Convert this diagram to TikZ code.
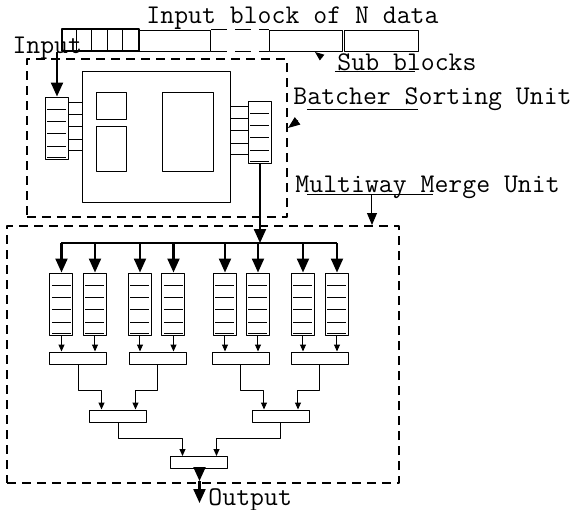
\documentclass[tikz,border=0pt]{standalone}
\usetikzlibrary{arrows.meta}
\tikzset{
  blk/.style={draw, inner sep=0pt, minimum height=10.5pt},
  reg/.style={draw, inner sep=0pt, minimum width=11.5pt, minimum height=31pt,
    path picture={\foreach \d in {6,12,18,24.5,30}
      \draw ([xshift=1pt,yshift=-\d pt]path picture bounding box.north west)
        -- ([xshift=-1pt,yshift=-\d pt]path picture bounding box.north east);}},
  unit/.style={draw, dash pattern=on 4.5pt off 3pt, line width=1pt, inner sep=0pt},
  mbox/.style={draw, inner sep=0pt, minimum width=28.5pt, minimum height=6pt},
  bigarrow/.style={line width=1.1pt, -{Triangle[length=7pt,width=6pt]}},
  midarrow/.style={-{Triangle[length=6pt,width=5pt]}},
  smallarrow/.style={-{Triangle[length=3.5pt,width=3pt]}},
  lbl/.style={anchor=base west, inner sep=0pt, font=\fontsize{13.5}{15}\selectfont\ttfamily},
}
\begin{document}
\begin{tikzpicture}[x=0.5pt, y=-0.5pt, line width=0.5pt, line join=round]
\useasboundingbox (0,0) rectangle (570,510);
% input block
\node[blk, line width=1pt, minimum width=38.5pt, minimum height=11pt] (cells) at (100.5,40) {};
\foreach \i in {1,...,4}
  \draw ([xshift=\i*7.7pt]cells.north west) -- ([xshift=\i*7.7pt]cells.south west);
\node[blk, minimum width=36pt] (b1) at (175,40.5) {};
\node[blk, minimum width=36.5pt] (b2) at (306.5,40.5) {};
\node[blk, minimum width=37pt] (b3) at (382,40.5) {};
\draw[dash pattern=on 8pt off 4pt] (b1.north east) -- (b2.north west);
\draw[dash pattern=on 8pt off 4pt] (b1.south east) -- (b2.south west);
\node[lbl] (title) at (146,23) {Input block of N data};
\node[lbl] (input) at (12,53) {Input};
\node[lbl] (sub) at (337,70) {Sub blocks};
\path (335,71) coordinate (subl) (415,71) coordinate (subr)
  (322,57.5) coordinate (subf) (315,52) coordinate (subt);
\draw (subl) -- (subr);
\draw[-{Triangle[length=4.5pt,width=3.5pt]}] (subf) -- (subt);
% batcher sorting unit
\node[unit, minimum width=130pt, minimum height=79pt] (bsu) at (157,138) {};
\node[draw, inner sep=0pt, minimum width=74pt, minimum height=65.5pt] (sort) at (157,136.5) {};
\node[draw, inner sep=0pt, minimum width=15pt, minimum height=13.5pt] (s1) at (112,105.5) {};
\node[draw, inner sep=0pt, minimum width=15pt, minimum height=22.5pt] (s2) at (112,148.5) {};
\node[draw, inner sep=0pt, minimum width=25.5pt, minimum height=39.5pt] (s3) at (188.5,131.5) {};
\node[reg] (bsl) at (57,128) {};
\node[reg] (bsr) at (260,132) {};
\foreach \d in {3,9,15,21.5,27} {
  \path ([yshift=-\d pt]bsl.north east) coordinate (p);
  \draw (p) -- (p -| sort.west);
  \path ([yshift=-\d pt]bsr.north west) coordinate (q);
  \draw (q) -- (q -| sort.east);
}
\draw[bigarrow] (cells.south -| bsl.north) -- (bsl.north);
\node[lbl] (bsname) at (293,104) {Batcher Sorting Unit};
\path (307,109) coordinate (bsul) (418,109) coordinate (bsur)
  (298,120.5) coordinate (bsf) (288,128) coordinate (bst);
\draw (bsul) -- (bsur);
\draw[-{Triangle[length=6pt,width=4.5pt]}] (bsf) -- (bst);
% multiway merge unit
\node[unit, minimum width=196pt, minimum height=128.5pt] (mmu) at (203,354.5) {};
\node[lbl] (mmname) at (295,192) {Multiway Merge Unit};
\path (307,194) coordinate (mmul) (433,194) coordinate (mmur) (372,194) coordinate (mmf);
\draw (mmul) -- (mmur);
\draw[midarrow] (mmf) -- (mmf |- mmu.north);
\foreach \x [count=\i] in {61.5,95,140,173.5,225,258,303,337}
  \node[reg] (r\i) at (\x,304) {};
\foreach \x [count=\i] in {78.5,158,241,320}
  \node[mbox] (ma\i) at (\x,358) {};
\foreach \x [count=\i] in {118.5,281}
  \node[mbox] (mb\i) at (\x,416) {};
\node[mbox] (mc) at (199.5,462.5) {};
\path (0,243) coordinate (bus) (199.5,481) coordinate (omid) (199.5,503) coordinate (out);
\draw[line width=1.1pt] (r1.north |- bus) -- (r8.north |- bus);
\draw[bigarrow] (bsr.south) -- (bsr.south |- bus);
\foreach \i in {1,...,8} {
  \pgfmathtruncatemacro\j{(\i+1)/2}
  \draw[bigarrow] (r\i.north |- bus) -- (r\i.north);
  \draw[smallarrow] (r\i.south) -- (r\i.south |- ma\j.north);
}
\draw[smallarrow] (ma1.south) -- ++(0,-13pt) -| ([xshift=-8.5pt]mb1.north);
\draw[smallarrow] (ma2.south) -- ++(0,-13pt) -| ([xshift=8.5pt]mb1.north);
\draw[smallarrow] (ma3.south) -- ++(0,-13pt) -| ([xshift=-8.5pt]mb2.north);
\draw[smallarrow] (ma4.south) -- ++(0,-13pt) -| ([xshift=8.5pt]mb2.north);
\draw[smallarrow] (mb1.south) -- ++(0,-8pt) -| ([xshift=-8.5pt]mc.north);
\draw[smallarrow] (mb2.south) -- ++(0,-8pt) -| ([xshift=8.5pt]mc.north);
\draw[bigarrow] (mc.south) -- (omid);
\draw[bigarrow] (omid) -- (out);
\node[lbl] (output) at (208,505) {Output};
\end{tikzpicture}
\end{document}
